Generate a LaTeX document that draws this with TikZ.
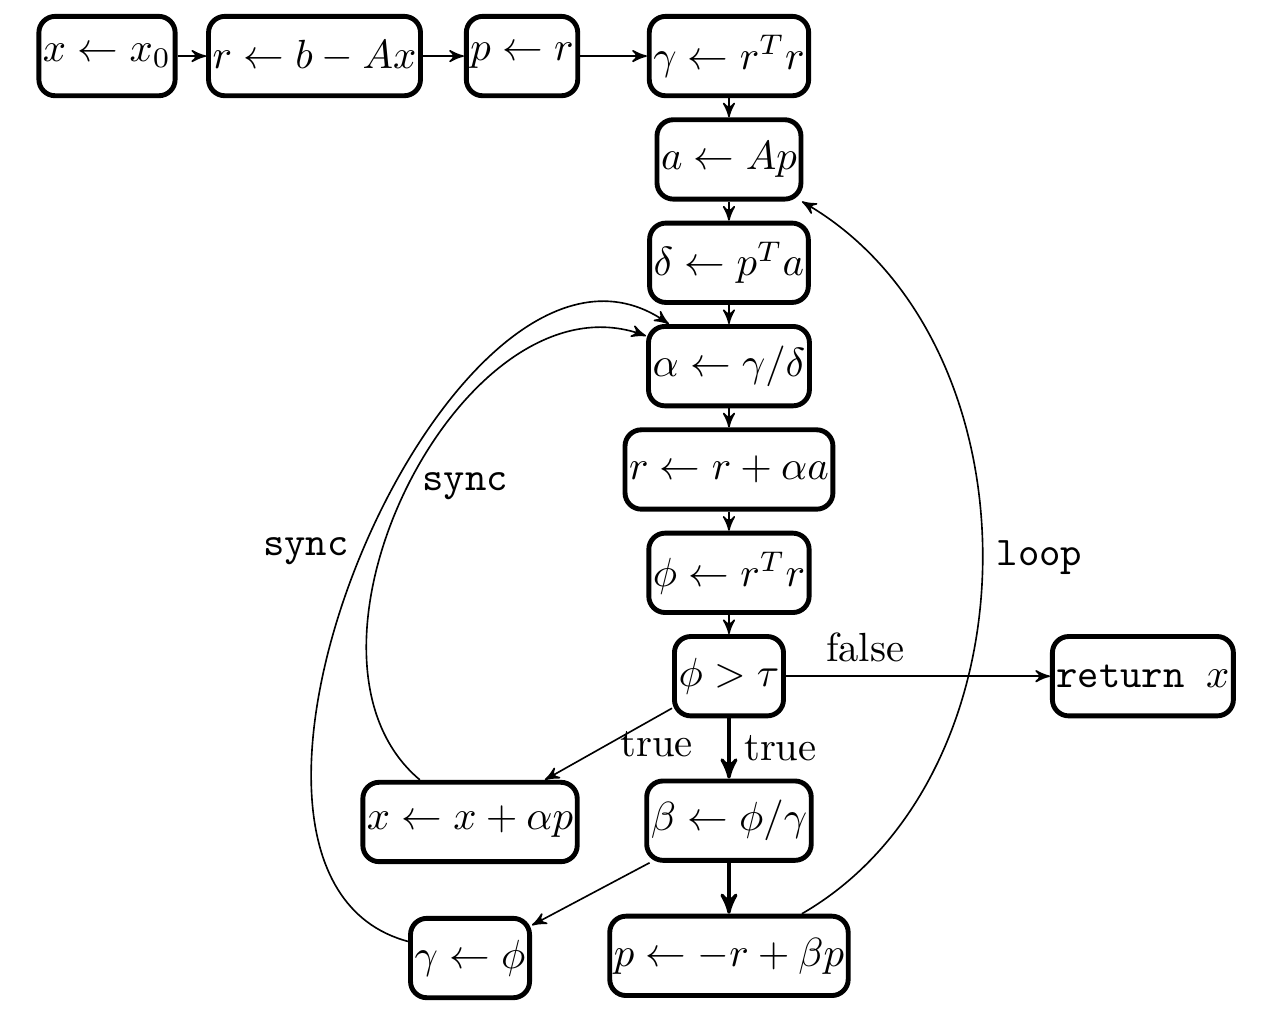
\documentclass[tikz,border=0pt]{standalone}
\usepackage{amsmath}
\usepackage{amssymb}
\usetikzlibrary{arrows,positioning,calc}
\tikzset{
    stmt/.style={
        rectangle,
        rounded corners,
        very thick,
        draw=black,
        minimum height=1.95em,
        inner sep=1pt,
    },
}
\begin{document}
\begin{tikzpicture}[node distance=0.165cm,>=stealth',auto]
	    \useasboundingbox (0,0) rectangle (10.898,-8.826);
	    \node [stmt] (x0) at (0.924,-0.484) {$x \leftarrow x_0$};
	    \node [stmt] (rb) at (2.716,-0.484) {$r \leftarrow b - Ax$};
	    \node [stmt] (pr) at (4.508,-0.484) {$p \leftarrow r$};
	    \node [stmt] (g) at (6.295,-0.484) {$\gamma \leftarrow r^T r$};
	    \node [stmt] (a) [below=of g] {$a \leftarrow Ap$};
	    \node [stmt] (d) [below=of a] {$\delta \leftarrow p^T a$};
	    \node [stmt] (al) [below=of d] {$\alpha \leftarrow \gamma / \delta$};
	    \node [stmt] (rr) [below=of al] {$r \leftarrow r + \alpha a$};
	    \node [stmt] (phi) [below=of rr] {$\phi \leftarrow r^T r$};
	    \node [stmt] (test) [below=of phi] {$\phi > \tau$};
	    \node [stmt] (ret) [right=2.28cm of test] {\texttt{return }$x$};
	    \node [stmt] (beta) [below=0.52cm of test] {$\beta \leftarrow \phi / \gamma$};
	    \node [stmt] (pp) [below=0.44cm of beta] {$p \leftarrow -r + \beta p$};
	    \node [stmt] (xx) at (4.059,-7.098) {$x \leftarrow x + \alpha p$};
	    \node [stmt] (gp) at (4.059,-8.273) {$\gamma \leftarrow \phi$};
	    \path[->] (x0) edge (rb);
	    \path[->] (rb) edge (pr);
	    \path[->] (pr) edge (g);
	    \path[->] (g) edge (a);
	    \path[->] (a) edge (d);
	    \path[->] (d) edge (al);
	    \path[->] (al) edge (rr);
	    \path[->] (rr) edge (phi);
	    \path[->] (phi) edge (test);
	    \path[->] (test) edge node [pos=0.3] {false} (ret);
	    \path[->,thick] (test) edge node [right] {true} (beta);
	    \path[->] (test) edge node [pos=0.12,below] {true} (xx);
	    \path[->,thick] (beta) edge (pp);
	    \path[->] (beta) edge (gp);
	    \path[->] (pp) edge [out=30,in=-30] node [right] {\texttt{loop}} (a);
	    \path[->] (xx) edge [out=140,in=160] node [right] {\texttt{sync}} (al);
	    \path[->] (gp) edge [out=165,in=145] node [left] {\texttt{sync}} (al);
	\end{tikzpicture}
\end{document}
